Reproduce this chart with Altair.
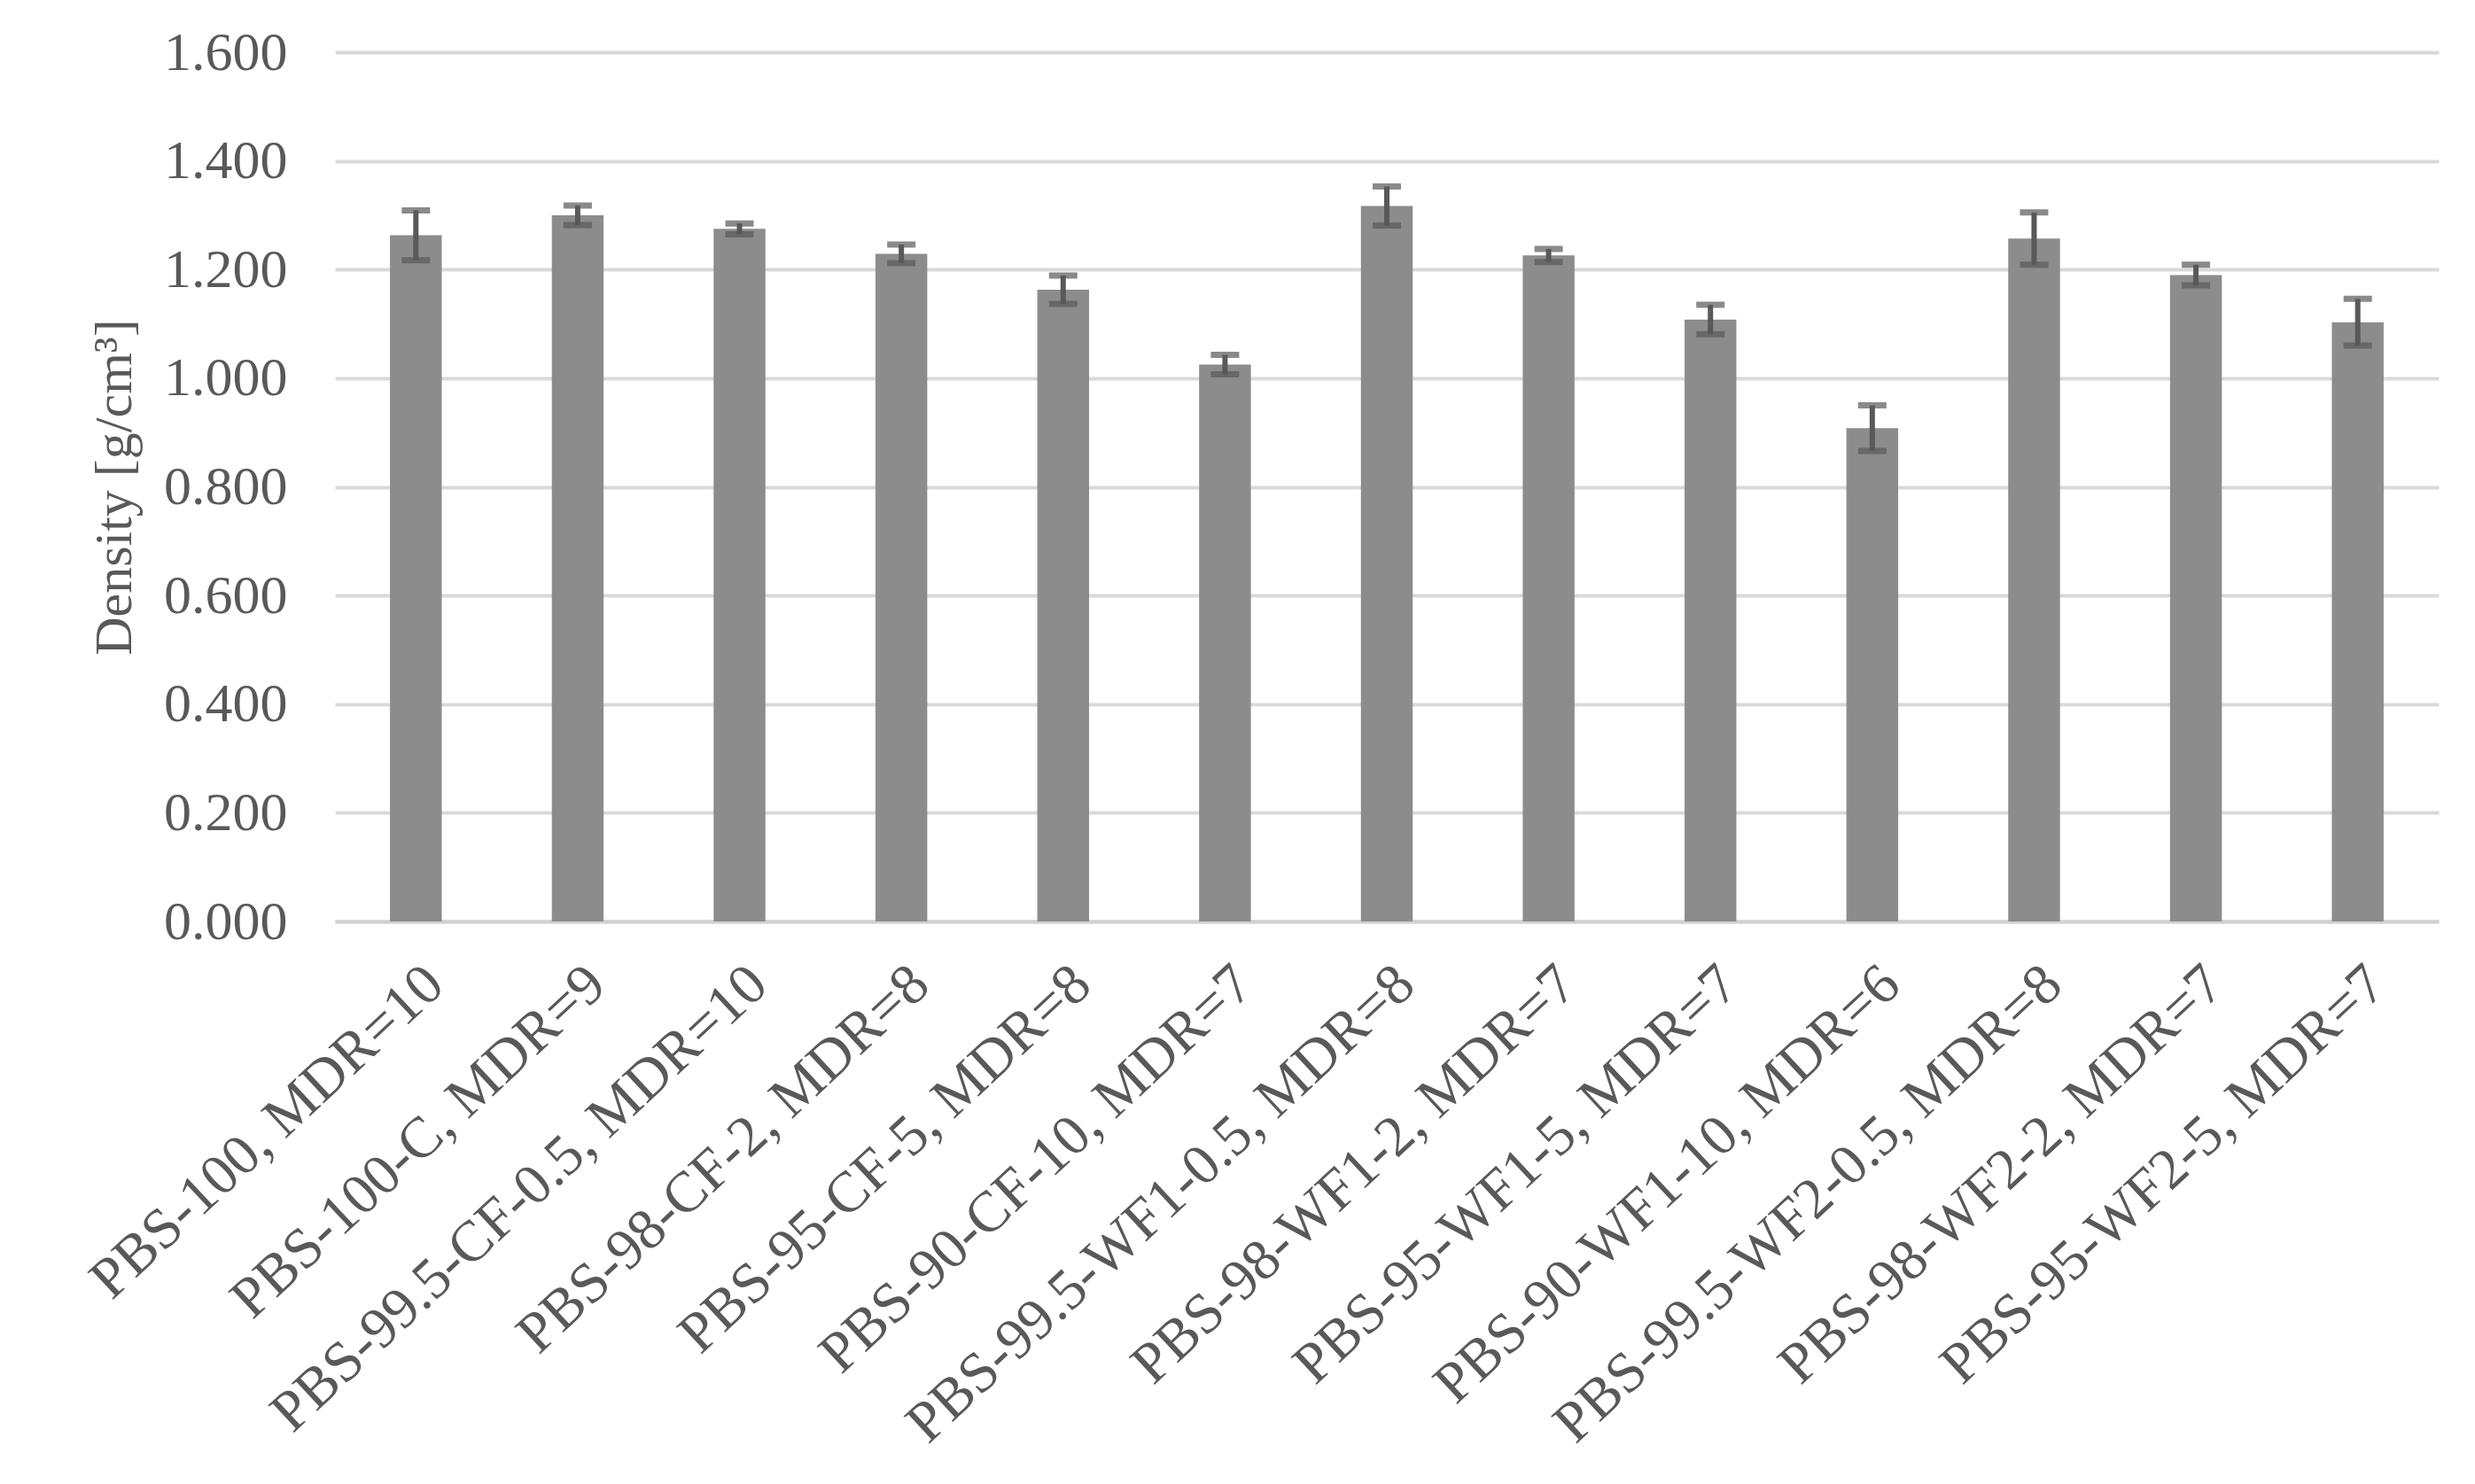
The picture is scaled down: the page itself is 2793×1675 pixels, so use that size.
import altair as alt
import pandas as pd

categories = [
    "PBS-100, MDR=10",
    "PBS-100-C, MDR=9",
    "PBS-99.5-CF-0.5, MDR=10",
    "PBS-98-CF-2, MDR=8",
    "PBS-95-CF-5, MDR=8",
    "PBS-90-CF-10, MDR=7",
    "PBS-99.5-WF1-0.5, MDR=8",
    "PBS-98-WF1-2, MDR=7",
    "PBS-95-WF1-5, MDR=7",
    "PBS-90-WF1-10, MDR=6",
    "PBS-99.5-WF2-0.5, MDR=8",
    "PBS-98-WF2-2, MDR=7",
    "PBS-95-WF2-5, MDR=7",
]
density = [1.263, 1.300, 1.275, 1.229, 1.163, 1.025, 1.317, 1.226, 1.108, 0.908, 1.257, 1.190, 1.103]
errors = [0.046, 0.018, 0.010, 0.017, 0.026, 0.018, 0.036, 0.012, 0.027, 0.042, 0.048, 0.019, 0.043]
y_ticks = [0.0, 0.2, 0.4, 0.6, 0.8, 1.0, 1.2, 1.4, 1.6]

df = pd.DataFrame({"cat": categories, "density": density, "err": errors})
df["lo"] = df["density"] - df["err"]
df["hi"] = df["density"] + df["err"]

FONT = "Liberation Serif"
TXT = "#595959"

x_enc = alt.X(
    "cat:N",
    sort=categories,
    title=None,
    scale=alt.Scale(paddingInner=0.68, paddingOuter=0.34),
    axis=alt.Axis(
        labelAngle=-43,
        labelAlign="right",
        labelBaseline="top",
        labelFont=FONT,
        labelFontSize=65,
        labelColor=TXT,
        labelPadding=38,
        labelLimit=1000,
        ticks=False,
        domain=True,
        domainColor="#d0d0d0",
        domainWidth=4,
        grid=False,
    ),
)

y_scale = alt.Scale(domain=[0, 1.6], nice=False)

bars = alt.Chart(df).mark_bar(color="#8c8c8c").encode(
    x=x_enc,
    y=alt.Y(
        "density:Q",
        scale=y_scale,
        title="Density [g/cm³]",
        axis=alt.Axis(
            values=y_ticks,
            format=".3f",
            labelFont=FONT,
            labelFontSize=62,
            labelColor=TXT,
            labelPadding=54,
            ticks=False,
            domain=False,
            grid=True,
            gridColor="#d9d9d9",
            gridWidth=4,
            titleFont=FONT,
            titleFontSize=60,
            titleFontWeight="normal",
            titleColor=TXT,
            titlePadding=24,
        ),
    ),
)

stems = alt.Chart(df).mark_rule(color="#595959", strokeWidth=6).encode(
    x=alt.X("cat:N", sort=categories),
    y=alt.Y("lo:Q", scale=y_scale),
    y2="hi:Q",
)

caps_hi = alt.Chart(df).mark_tick(color="#595959", size=32, thickness=7, orient="horizontal").encode(
    x=alt.X("cat:N", sort=categories),
    y=alt.Y("hi:Q", scale=y_scale),
)
caps_lo = alt.Chart(df).mark_tick(color="#595959", size=32, thickness=7, orient="horizontal").encode(
    x=alt.X("cat:N", sort=categories),
    y=alt.Y("lo:Q", scale=y_scale),
)

chart = alt.layer(bars, stems, caps_hi, caps_lo).properties(
    width=2374,
    height=981,
    autosize=alt.AutoSizeParams(type="none"),
    padding={"left": 370, "top": 51, "right": 30, "bottom": 620},
).configure(background="white").configure_view(stroke=None)

chart.save("out.html", embed_options={"renderer": "svg", "actions": False})
